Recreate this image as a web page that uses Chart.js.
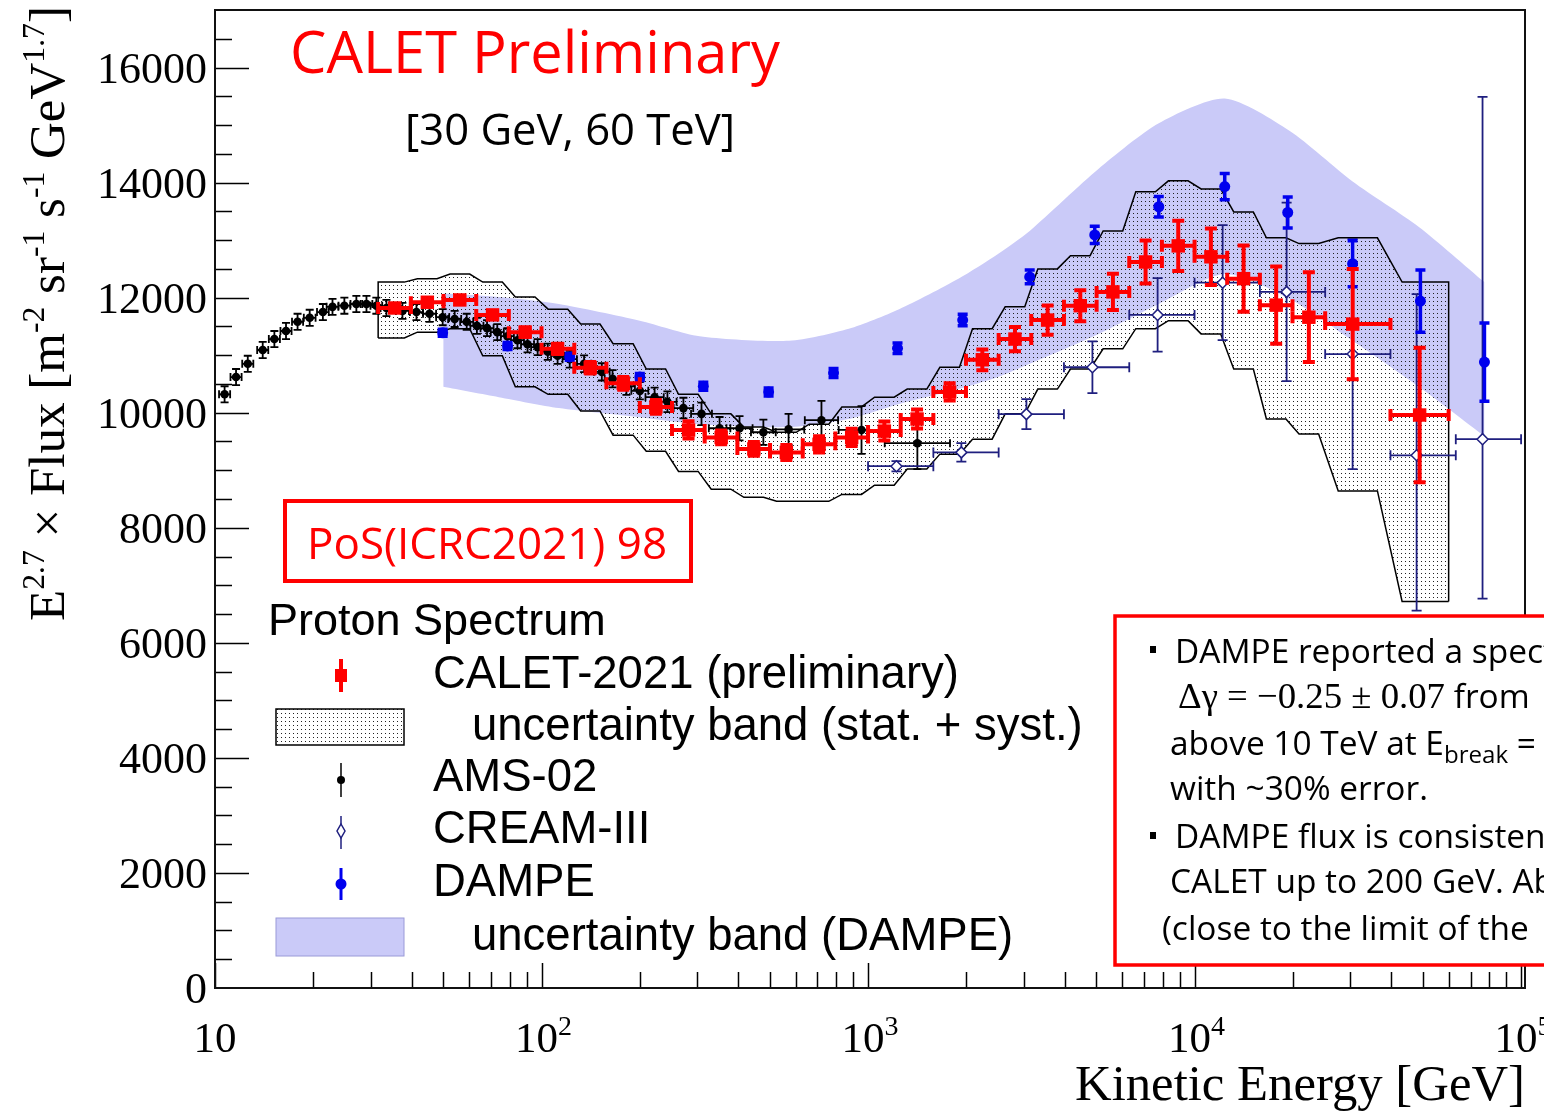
<!DOCTYPE html>
<html>
<head>
<meta charset="utf-8">
<title>CALET proton spectrum</title>
<script src="https://cdn.jsdelivr.net/npm/chart.js@4.4.1/dist/chart.umd.min.js"></script>
<style>
  html, body { margin: 0; padding: 0; background: #fff; }
  body { width: 1544px; height: 1111px; overflow: hidden; position: relative; }
  #chart { position: absolute; left: 0; top: 0; }
  #overlay { position: absolute; left: 0; top: 0; pointer-events: none; }
  .serif { font-family: "Liberation Serif", "DejaVu Serif", serif; }
  .sans { font-family: "Liberation Sans", Arial, sans-serif; }
  .cal { font-family: "Open Sans", "Noto Sans", sans-serif; }
</style>
</head>
<body>
<canvas id="chart" width="1544" height="1111"></canvas>
<svg id="overlay" width="1544" height="1111" xmlns="http://www.w3.org/2000/svg">
  <defs>
    <pattern id="dots" width="4" height="4" patternUnits="userSpaceOnUse">
      <rect x="1" y="1" width="1" height="1" fill="#222"/>
    </pattern>
  </defs>

  <!-- axis titles -->
  <text id="yTitle" class="serif" font-size="48" transform="translate(64,621) rotate(-90)">E<tspan font-size="62%" dy="-20">2.7</tspan><tspan dy="20"> × Flux [m</tspan><tspan font-size="62%" dy="-20">-2</tspan><tspan dy="20"> sr</tspan><tspan font-size="62%" dy="-20">-1</tspan><tspan dy="20"> s</tspan><tspan font-size="62%" dy="-20">-1</tspan><tspan dy="20"> GeV</tspan><tspan font-size="62%" dy="-20">1.7</tspan><tspan dy="20">]</tspan></text>
  <text id="xTitle" class="serif" font-size="50" x="1525" y="1100" text-anchor="end">Kinetic Energy [GeV]</text>

  <!-- headline -->
  <text id="tCalet" class="cal" font-size="60" x="290" y="73" fill="#ff0000">CALET Preliminary</text>
  <text id="tRange" class="cal" font-size="42" x="405" y="145" fill="#000">[30 GeV, 60 TeV]</text>

  <rect x="285" y="501" width="406" height="80" fill="none" stroke="#ff0000" stroke-width="4"/>
  <text id="tPos" class="cal" font-size="42" x="307" y="559" fill="#ff0000">PoS(ICRC2021) 98</text>

  <!-- legend -->
  <text class="sans" font-size="45" x="268" y="635">Proton Spectrum</text>
  <rect x="335" y="669" width="12" height="13" fill="#ff0000"/>
  <line x1="341" y1="659" x2="341" y2="692" stroke="#ff0000" stroke-width="4"/>
  <text class="sans" font-size="45.5" x="433" y="688">CALET-2021 (preliminary)</text>
  <rect x="276" y="709" width="128" height="36" fill="url(#dots)" stroke="#000" stroke-width="1.5"/>
  <text class="sans" font-size="45.5" x="472" y="740">uncertainty band (stat. + syst.)</text>
  <line x1="341" y1="763" x2="341" y2="797" stroke="#000" stroke-width="1.5"/>
  <circle cx="341" cy="780" r="4" fill="#000"/>
  <text class="sans" font-size="45.5" x="433" y="791">AMS-02</text>
  <line x1="341" y1="816" x2="341" y2="849" stroke="#1f1f7f" stroke-width="1.5"/>
  <path d="M341 824 L345 831 L341 838 L337 831 Z" fill="#fff" stroke="#1f1f7f" stroke-width="1.5"/>
  <text class="sans" font-size="45.5" x="433" y="843">CREAM-III</text>
  <line x1="341" y1="868" x2="341" y2="900" stroke="#0000ee" stroke-width="3"/>
  <circle cx="341" cy="884" r="5.5" fill="#0000ee"/>
  <text class="sans" font-size="45.5" x="433" y="896">DAMPE</text>
  <rect x="276" y="918" width="128" height="38" fill="#cacaf8" stroke="#9a9ad8" stroke-width="1"/>
  <text class="sans" font-size="45.5" x="472" y="950">uncertainty band (DAMPE)</text>

  <!-- note box on the right -->
  <rect x="1115" y="616" width="460" height="349" fill="#fff" stroke="#ff0000" stroke-width="3.5"/>
  <rect x="1150" y="646" width="6" height="7" fill="#000"/>
  <text class="cal boxline" font-size="34" x="1175" y="663">DAMPE reported a spectral</text>
  <text font-size="34" x="1178" y="708"><tspan id="tGamma" class="serif" font-size="38">Δγ = −0.25 ± 0.07</tspan><tspan class="cal boxline" font-size="34"> from</tspan></text>
  <text class="cal boxline" font-size="34" x="1170" y="755">above 10 TeV at E<tspan font-size="72%" dy="8">break</tspan><tspan dy="-8"> =</tspan></text>
  <text id="tErr" class="cal boxline" font-size="34" x="1170" y="800">with ~30% error.</text>
  <rect x="1150" y="832" width="6" height="7" fill="#000"/>
  <text class="cal boxline" font-size="34" x="1175" y="848">DAMPE flux is consistent</text>
  <text class="cal boxline" font-size="34" x="1170" y="893">CALET up to 200 GeV. Above</text>
  <text class="cal boxline" font-size="34" x="1162" y="940">(close to the limit of the</text>
</svg>

<script>
// === DATA ===
// CALET-2021 (preliminary): bin edges, centres [GeV], E^2.7 x flux, error
const calEdges = [31.6, 39.8, 50.1, 63.1, 79.4, 100, 126, 158, 200, 251, 316, 398, 501, 631, 794,
                  1000, 1259, 1585, 1995, 2512, 3162, 3981, 5012, 6310, 7943, 10000, 12590, 15850,
                  19950, 25120, 39810, 60000];
const calE = [35.5, 44.7, 56.2, 70.8, 89.1, 112, 141, 178, 224, 282, 355, 447, 562, 708, 891,
              1122, 1413, 1778, 2239, 2818, 3548, 4467, 5623, 7079, 8913, 11220, 14130, 17780,
              22390, 30500, 48900];
const calFlux = [11820, 11920, 11960, 11700, 11400, 11110, 10780, 10510, 10100, 9700, 9570, 9370,
                 9310, 9450, 9570, 9680, 9890, 10360, 10920, 11280, 11610, 11860, 12100, 12620,
                 12900, 12710, 12330, 11870, 11660, 11540, 9960];
const calErr = [60, 60, 70, 70, 80, 90, 100, 110, 120, 150, 120, 120, 130, 140, 150, 165, 165,
                150, 180, 210, 255, 270, 315, 375, 435, 490, 575, 670, 780, 960, 1170];
// CALET uncertainty band (stat. + syst.), per bin
const calBandHigh = [12270, 12330, 12410, 12270, 12010, 11800, 11540, 11200, 10760, 10320, 9980,
                     9750, 9660, 9800, 10100, 10270, 10410, 10790, 11460, 11840, 12500, 12730,
                     13160, 13840, 14030, 13890, 13490, 13040, 12940, 13040, 12270];
const calBandLow = [11300, 11400, 11460, 10990, 10450, 10320, 10030, 9610, 9330, 8980, 8670, 8530,
                    8460, 8460, 8580, 8740, 9020, 9280, 9540, 9980, 10410, 10760, 11110, 11460,
                    11600, 11370, 10760, 9890, 9630, 8640, 6720];

// AMS-02
const amsE = [10.7, 11.6, 12.6, 14.0, 15.2, 16.5, 17.9, 19.5, 21.4, 22.9, 24.9, 27.1, 29.1, 31.2,
              33.5, 37.5, 41.4, 45.4, 49.8, 54.2, 59.0, 63.4, 68.1, 73.2, 78.6, 84.4, 90.6, 97.3,
              104.5, 112, 122, 135, 153, 165, 182, 200, 222, 243, 272, 309, 351, 404, 478, 571,
              720, 955, 1416];
const amsFlux = [10320, 10620, 10850, 11090, 11280, 11420, 11580, 11650, 11750, 11840, 11860, 11890,
                 11890, 11860, 11820, 11770, 11750, 11720, 11660, 11630, 11580, 11510, 11470, 11400,
                 11330, 11260, 11190, 11140, 11060, 10990, 10930, 10850, 10710, 10590, 10460, 10380,
                 10270, 10190, 10080, 9980, 9730, 9730, 9660, 9710, 9870, 9700, 9470];
const amsErr = [140, 140, 140, 140, 140, 140, 140, 140, 140, 140, 140, 140, 140, 140, 140, 140, 140,
                140, 140, 140, 140, 140, 140, 140, 140, 140, 140, 140, 140, 140, 145, 145, 150, 150,
                150, 150, 165, 180, 180, 195, 195, 210, 220, 270, 335, 415, 450];
const amsHalfBin = [0.017, 0.017, 0.017, 0.017, 0.017, 0.017, 0.017, 0.018, 0.018, 0.018, 0.018,
                    0.018, 0.018, 0.018, 0.018, 0.02, 0.02, 0.02, 0.02, 0.02, 0.02, 0.02, 0.02, 0.02,
                    0.02, 0.02, 0.02, 0.02, 0.02, 0.02, 0.022, 0.022, 0.024, 0.024, 0.026, 0.026,
                    0.028, 0.028, 0.03, 0.032, 0.033, 0.04, 0.038, 0.048, 0.051, 0.07, 0.1];

// CREAM-III
const creamEdges = [1000, 1585, 2512, 3981, 6310, 10000, 15850, 25120, 39810, 63100, 100000];
const creamE = [1222, 1931, 3055, 4866, 7706, 12190, 19140, 30480, 47870, 76200];
const creamFlux = [9070, 9310, 9975, 10790, 11700, 12260, 12100, 11020, 9260, 9540];
const creamErrHi = [90, 160, 260, 450, 640, 1000, 1550, 2000, 2800, 5950];
const creamErrLo = [90, 160, 260, 450, 640, 1000, 1550, 2000, 2700, 2770];

// DAMPE
const dampeE = [49.8, 78.7, 122, 200, 313, 496, 784, 1231, 1949, 3127, 4946, 7770, 12370, 19290,
                30480, 49170, 77230];
const dampeFlux = [11390, 11160, 10970, 10620, 10460, 10360, 10690, 11120, 11610, 12360, 13090,
                   13580, 13930, 13480, 12590, 11940, 10880];
const dampeErr = [60, 60, 60, 60, 70, 70, 80, 90, 100, 120, 150, 180, 230, 270, 400, 540, 680];
// DAMPE uncertainty band
const dampeBandE = [50, 74, 113, 200, 305, 573, 873, 1245, 1891, 2500, 3127, 5085, 7770, 12370,
                    19520, 30480, 48650, 77230];
const dampeBandHigh = [12070, 12010, 11890, 11600, 11330, 11250, 11460, 11800, 12330, 12760, 13160,
                       14240, 15030, 15460, 14900, 14020, 13230, 12270];
const dampeBandLow = [10450, 10270, 10080, 9920, 9800, 9750, 9890, 10150, 10410, 10620, 10850,
                      11370, 11890, 12410, 11980, 11250, 10450, 9590];

// axis labels
const yTickValues = [0, 2000, 4000, 6000, 8000, 10000, 12000, 14000, 16000];
const xTickValues = [10, 100, 1000, 10000, 100000];
const xTickBase = ['10', '10', '10', '10', '10'];
const xTickExp = ['', '2', '3', '4', '5'];

// === HELPERS ===
const lg = Math.log10;

function pairs(xs, ys) {
    return xs.map((x, i) => ({ x: x, y: ys[i] }));
}

// histogram-like band: flat top per bin, slanted steps between bins
function stepBand(edges, vals) {
    const pts = [];
    const n = vals.length;
    for (let i = 0; i < n; i++) {
        const a = lg(edges[i]), b = lg(edges[i + 1]), w = b - a;
        const x1 = i === 0 ? a : a + 0.2 * w;
        const x2 = i === n - 1 ? b : b - 0.2 * w;
        pts.push({ x: 10 ** x1, y: vals[i] }, { x: 10 ** x2, y: vals[i] });
    }
    return pts;
}

const lastEdge = calEdges[calEdges.length - 1];
const calUpper = [{ x: calEdges[0], y: calBandLow[0] }, ...stepBand(calEdges, calBandHigh),
                  { x: lastEdge, y: calBandLow[calBandLow.length - 1] }];
const calLower = stepBand(calEdges, calBandLow);

const calXlo = calE.map((e, i) => calEdges[i]);
const calXhi = calE.map((e, i) => calEdges[i + 1]);
const creamXlo = creamE.map((e, i) => creamEdges[i]);
const creamXhi = creamE.map((e, i) => creamEdges[i + 1]);
const amsXlo = amsE.map((e, i) => e / 10 ** amsHalfBin[i]);
const amsXhi = amsE.map((e, i) => e * 10 ** amsHalfBin[i]);

const canvas = document.getElementById('chart');
const ctx = canvas.getContext('2d');
const tile = document.createElement('canvas');
tile.width = 4; tile.height = 4;
const tctx = tile.getContext('2d');
tctx.fillStyle = '#222';
tctx.fillRect(1, 1, 1, 1);
const dotFill = ctx.createPattern(tile, 'repeat');

// === PLUGINS ===
const errorBars = {
    id: 'errorBars',
    beforeDatasetDraw(chart, args) {
        const ds = chart.data.datasets[args.index];
        if (!ds.errHi) return;
        const { ctx, scales: { x, y } } = chart;
        const c = ds.cap;
        ctx.save();
        ctx.strokeStyle = ds.errColor;
        ctx.lineWidth = ds.errWidth;
        ds.data.forEach((p, i) => {
            const px = x.getPixelForValue(p.x);
            const py = y.getPixelForValue(p.y);
            const y1 = y.getPixelForValue(p.y + ds.errHi[i]);
            const y2 = y.getPixelForValue(p.y - ds.errLo[i]);
            ctx.beginPath();
            ctx.moveTo(px, y1); ctx.lineTo(px, y2);
            ctx.moveTo(px - c, y1); ctx.lineTo(px + c, y1);
            ctx.moveTo(px - c, y2); ctx.lineTo(px + c, y2);
            if (ds.errXlo) {
                const x1 = x.getPixelForValue(ds.errXlo[i]);
                const x2 = x.getPixelForValue(ds.errXhi[i]);
                ctx.moveTo(x1, py); ctx.lineTo(x2, py);
                ctx.moveTo(x1, py - c); ctx.lineTo(x1, py + c);
                ctx.moveTo(x2, py - c); ctx.lineTo(x2, py + c);
            }
            ctx.stroke();
        });
        ctx.restore();
    }
};

const frame = {
    id: 'frame',
    beforeDatasetsDraw(chart) {
        const { ctx, chartArea: a, scales: { x, y } } = chart;
        ctx.save();
        ctx.strokeStyle = '#000';
        ctx.lineWidth = 1.5;
        ctx.beginPath();
        for (let v = 500; v < 17000; v += 500) {
            const py = Math.round(y.getPixelForValue(v)) + 0.5;
            ctx.moveTo(a.left, py);
            ctx.lineTo(a.left + (v % 2000 === 0 ? 34 : 17), py);
        }
        for (let d = 1; d <= 5; d++) {
            for (let m = 1; m <= 9; m++) {
                const v = m * 10 ** d;
                if (v > x.max) break;
                const px = Math.round(x.getPixelForValue(v)) + 0.5;
                ctx.moveTo(px, a.bottom);
                ctx.lineTo(px, a.bottom - (m === 1 ? 25 : 16));
            }
        }
        ctx.stroke();
        ctx.restore();
    },
    afterDatasetsDraw(chart) {
        const { ctx, chartArea: a } = chart;
        ctx.save();
        ctx.strokeStyle = '#111';
        ctx.lineWidth = 2;
        ctx.strokeRect(a.left, a.top, a.right - a.left, a.bottom - a.top);
        ctx.restore();
    }
};

// === CHART ===
const chart = new Chart(ctx, {
    type: 'scatter',
    data: {
        datasets: [
            { type: 'line', data: pairs(dampeBandE, dampeBandHigh), fill: '+1', backgroundColor: '#cacaf8',
              borderWidth: 0, pointRadius: 0, tension: 0.25, order: 8 },
            { type: 'line', data: pairs(dampeBandE, dampeBandLow), fill: false,
              borderWidth: 0, pointRadius: 0, tension: 0.25, order: 7 },
            { type: 'line', data: calUpper, fill: '+1', backgroundColor: dotFill, borderColor: '#000',
              borderWidth: 1.5, pointRadius: 0, tension: 0, order: 6 },
            { type: 'line', data: calLower, fill: false, borderColor: '#000',
              borderWidth: 1.5, pointRadius: 0, tension: 0, order: 5 },
            { data: pairs(amsE, amsFlux), pointStyle: 'circle', pointRadius: 4.3, backgroundColor: '#000',
              borderWidth: 0, order: 4,
              errHi: amsErr, errLo: amsErr, errXlo: amsXlo, errXhi: amsXhi, errColor: '#000', errWidth: 1.8, cap: 4 },
            { data: pairs(creamE, creamFlux), pointStyle: 'rectRot', pointRadius: 5.5, backgroundColor: '#fff',
              borderColor: '#1f1f7f', borderWidth: 1.5, order: 3,
              errHi: creamErrHi, errLo: creamErrLo, errXlo: creamXlo, errXhi: creamXhi, errColor: '#1f1f7f', errWidth: 1.8, cap: 5 },
            { data: pairs(dampeE, dampeFlux), pointStyle: 'circle', pointRadius: 5.5, backgroundColor: '#0000ee',
              borderWidth: 0, order: 2,
              errHi: dampeErr, errLo: dampeErr, errColor: '#0000ee', errWidth: 3.5, cap: 5 },
            { data: pairs(calE, calFlux), pointStyle: 'rect', pointRadius: 9.5, backgroundColor: '#ff0000',
              borderWidth: 0, order: 1,
              errHi: calErr, errLo: calErr, errXlo: calXlo, errXhi: calXhi, errColor: '#ff0000', errWidth: 4, cap: 6 }
        ]
    },
    options: {
        responsive: false,
        animation: false,
        devicePixelRatio: 1,
        layout: { padding: { left: 0, top: 10, right: 19, bottom: 0 } },
        plugins: { legend: { display: false }, tooltip: { enabled: false } },
        scales: {
            x: {
                type: 'logarithmic', min: 10, max: 102800,
                grid: { display: false, drawTicks: false }, border: { display: false },
                ticks: { display: false },
                afterFit(s) { s.height = 123; }
            },
            y: {
                min: 0, max: 17000,
                grid: { display: false, drawTicks: false }, border: { display: false },
                ticks: { display: false },
                afterFit(s) { s.width = 215; }
            }
        }
    },
    plugins: [errorBars, frame]
});

// === OVERLAY TEXT ===
const NS = 'http://www.w3.org/2000/svg';
const overlay = document.getElementById('overlay');

yTickValues.forEach(v => {
    const t = document.createElementNS(NS, 'text');
    t.setAttribute('x', 207);
    t.setAttribute('y', chart.scales.y.getPixelForValue(v) + 15);
    t.setAttribute('text-anchor', 'end');
    t.setAttribute('class', 'serif');
    t.setAttribute('font-size', 44);
    t.textContent = String(v);
    overlay.appendChild(t);
});

xTickValues.forEach((v, i) => {
    const t = document.createElementNS(NS, 'text');
    t.setAttribute('x', chart.scales.x.getPixelForValue(v) + (xTickExp[i] ? 2 : 0));
    t.setAttribute('y', 1052);
    t.setAttribute('text-anchor', 'middle');
    t.setAttribute('class', 'serif');
    t.setAttribute('font-size', 43);
    t.textContent = xTickBase[i];
    if (xTickExp[i]) {
        const s = document.createElementNS(NS, 'tspan');
        s.setAttribute('font-size', 28);
        s.setAttribute('dy', -17);
        s.textContent = xTickExp[i];
        t.appendChild(s);
    }
    overlay.appendChild(t);
});

function fitWidth(el, w) {
    const cur = parseFloat(el.getAttribute('font-size'));
    const len = el.getComputedTextLength();
    if (len > 0) el.setAttribute('font-size', (cur * w / len).toFixed(2));
}

function fitAll() {
    fitWidth(document.getElementById('yTitle'), 615);
    fitWidth(document.getElementById('xTitle'), 450);
    fitWidth(document.getElementById('tCalet'), 490);
    fitWidth(document.getElementById('tRange'), 330);
    fitWidth(document.getElementById('tPos'), 360);
    const errLine = document.getElementById('tErr');
    fitWidth(errLine, 258);
    const size = errLine.getAttribute('font-size');
    document.querySelectorAll('.boxline').forEach(el => el.setAttribute('font-size', size));
    const gamma = document.getElementById('tGamma');
    const g = gamma.getComputedTextLength();
    if (g > 0) gamma.setAttribute('font-size', (38 * 267 / g).toFixed(2));
}
fitAll();
</script>
</body>
</html>
